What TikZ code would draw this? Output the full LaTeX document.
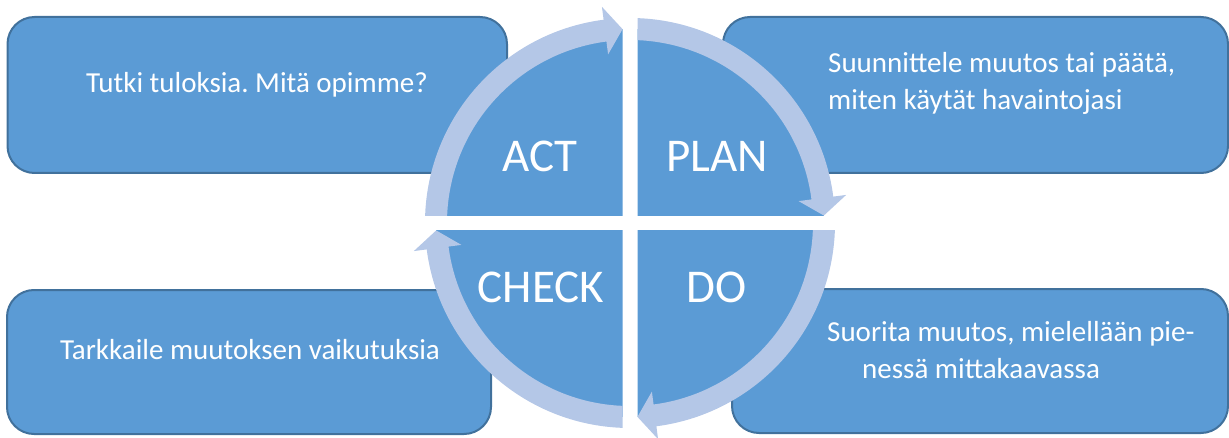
\documentclass[tikz,border=0pt]{standalone}
\usepackage{fontspec}
\setmainfont{Carlito}
\usepackage{tikz}
\frenchspacing

\definecolor{boxblue}{HTML}{5B9BD5}
\definecolor{boxline}{HTML}{41719C}
\definecolor{ringblue}{HTML}{B4C7E7}

\tikzset{
	infobox/.style={draw=boxline, line width=2pt, fill=boxblue, rounded corners=27pt, inner sep=0pt},
	infotext/.style={text=white, inner sep=0pt, font=\fontsize{29}{37}\selectfont},
	phase/.style={text=white, inner sep=0pt, anchor=base, font=\fontsize{47}{56}\selectfont},
	quad/.style={fill=boxblue},
	ring/.style={fill=ringblue}
}

\begin{document}
\begin{tikzpicture}[x=1pt,y=1pt]
		\useasboundingbox (0,0) rectangle (1229,437);
		% the four text boxes
		\node (tlbox) at (257.25,342)[infobox, minimum width=499.5pt, minimum height=156pt]{} ;
		\node (trbox) at (975.5,342)[infobox, minimum width=505pt, minimum height=156pt]{} ;
		\node (blbox) at (249,75)[infobox, minimum width=484pt, minimum height=144pt]{} ;
		\node (brbox) at (980,76)[infobox, minimum width=496pt, minimum height=144pt]{} ;
		\node (tltext) at (257,344)[infotext, anchor=base]{Tutki tuloksia. Mitä opimme?} ;
		% base of a two line node is the last line
		\node (trtext) at (828,327)[infotext, anchor=base west, align=left]{Suunnittele muutos tai päätä,\\miten käytät havaintojasi} ;
		\node (bltext) at (250,78)[infotext, anchor=base]{Tarkkaile muutoksen vaikutuksia} ;
		\node (brtext) at (827,59)[infotext, anchor=base west, align=left]{Suorita muutos, mielellään pie-\\\hspace*{35pt}nessä mittakaavassa} ;
		% the cycle
		\begin{scope}[shift={(630,214)}]
			\foreach \qx/\qy in {1/1,-1/1,-1/-1,1/-1}{
				\begin{scope}
					\clip (7.5*\qx,7.5*\qy) rectangle (225*\qx,225*\qy);
					\fill[quad] (0,0) circle (194);
				\end{scope}
			}
			\foreach \r in {0,-90,-180,-270}{
				\begin{scope}[rotate=\r]
					\clip (-7.5,7.5) rectangle (-225,225);
					\fill[ring] (180:205) arc[start angle=180, end angle=97.4, radius=205]
						-- (97.4:218) -- (92.2:194) -- (97.4:170) -- (97.4:183)
						arc[start angle=97.4, end angle=180, radius=183] -- cycle;
				\end{scope}
			}
		\end{scope}
		\node (act) at (540,265)[phase]{ACT} ;
		\node (plan) at (717,265)[phase]{PLAN} ;
		\node (check) at (541,135)[phase]{CHECK} ;
		\node (do) at (717,135)[phase]{DO} ;
\end{tikzpicture}
\end{document}
